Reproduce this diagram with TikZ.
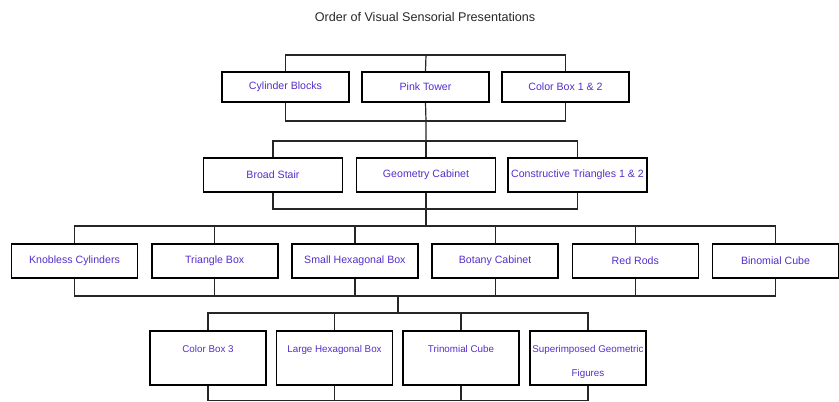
\documentclass[tikz,border=0pt]{standalone}
\usepackage{fontspec}
\setmainfont{Liberation Sans}
\definecolor{lbl}{RGB}{85,45,200}
\definecolor{ttl}{RGB}{40,40,40}
\begin{document}
\begin{tikzpicture}[x=1pt,y=-1pt,
  box/.style={draw=black, line width=1.6pt, inner sep=0pt, text=lbl,
    font=\fontsize{10.6}{12}\selectfont},
  boxa/.style={box, minimum width=127pt, minimum height=30pt},
  boxb/.style={box, minimum width=139pt, minimum height=34pt},
  boxc/.style={box, minimum width=126pt, minimum height=34pt},
  boxd/.style={box, minimum width=116pt, minimum height=54pt, anchor=north,
    align=center, text height=46pt, text depth=8pt,
    font=\fontsize{9.8}{24}\selectfont},
  conn/.style={draw=black!85, line width=1.2pt}]
\useasboundingbox (0,0) rectangle (839,402);

\node[text=ttl, font=\fontsize{12.6}{14}\selectfont] (title) at (425,17) {Order of Visual Sensorial Presentations};

% row 1
\node[boxa] (r1a) at (285.5,87) {Cylinder Blocks};
\node[boxa] (r1b) at (425.5,87) {Pink Tower};
\node[boxa] (r1c) at (565.5,87) {Color Box 1 \& 2};
% row 2
\node[boxb] (r2a) at (273,175) {Broad Stair};
\node[boxb] (r2b) at (426,175) {Geometry Cabinet};
\node[boxb] (r2c) at (577.5,175) {Constructive Triangles 1 \& 2};
% row 3
\node[boxc] (r3a) at (74.5,261) {Knobless Cylinders};
\node[boxc] (r3b) at (214.7,261) {Triangle Box};
\node[boxc] (r3c) at (354.9,261) {Small Hexagonal Box};
\node[boxc] (r3d) at (495.1,261) {Botany Cabinet};
\node[boxc] (r3e) at (635.3,261) {Red Rods};
\node[boxc] (r3f) at (775.5,261) {Binomial Cube};
% row 4
\node[boxd] (r4a) at (208,330) {Color Box 3\\~};
\node[boxd] (r4b) at (334.5,330) {Large Hexagonal Box\\~};
\node[boxd] (r4c) at (461,330) {Trinomial Cube\\~};
\node[boxd] (r4d) at (588,330) {Superimposed Geometric\\Figures};

% junctions
\coordinate (t1) at (426,55);
\coordinate (b1) at (426,121);
\coordinate (t2) at (426,141);
\coordinate (b2) at (426,209);
\coordinate (t3) at (426,226);
\coordinate (b3) at (398,296);
\coordinate (t4) at (398,313);
\coordinate (b4) at (398,400.5);

% row 1
\draw[conn] (r1a.north) |- (t1) -| (r1c.north);
\draw[conn] (t1) -- (r1b.north);
\draw[conn] (r1a.south) |- (b1) -| (r1c.south);
\draw[conn] (r1b.south) -- (b1) -- (t2);
% row 2
\draw[conn] (r2a.north) |- (t2) -| (r2c.north);
\draw[conn] (t2) -- (r2b.north);
\draw[conn] (r2a.south) |- (b2) -| (r2c.south);
\draw[conn] (r2b.south) -- (b2) -- (t3);
% row 3
\draw[conn] (r3a.north) |- (t3) -| (r3f.north);
\foreach \n in {r3b,r3c,r3d,r3e} \draw[conn] (\n.north) -- (\n.north |- t3);
\draw[conn] (r3a.south) |- (b3) -| (r3f.south);
\foreach \n in {r3b,r3c,r3d,r3e} \draw[conn] (\n.south) -- (\n.south |- b3);
\draw[conn] (b3) -- (t4);
% row 4
\draw[conn] (r4a.north) |- (t4) -| (r4d.north);
\foreach \n in {r4b,r4c} \draw[conn] (\n.north) -- (\n.north |- t4);
\draw[conn] (r4a.south) |- (b4) -| (r4d.south);
\foreach \n in {r4b,r4c} \draw[conn] (\n.south) -- (\n.south |- b4);
\end{tikzpicture}
\end{document}
